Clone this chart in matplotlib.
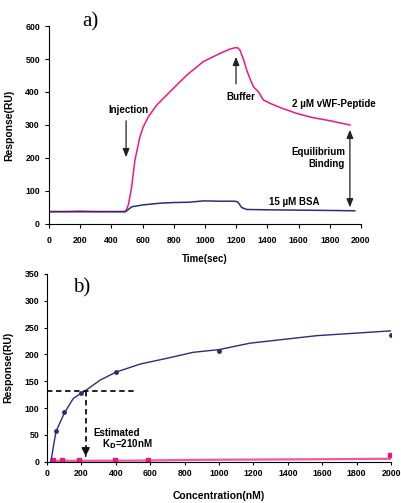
import numpy as np
from matplotlib import pyplot as plt

plt.rcParams['font.family'] = ['Liberation Sans', 'DejaVu Sans']
plt.rcParams['font.weight'] = 'bold'
plt.rcParams['axes.labelweight'] = 'bold'

PINK = '#ee1589'
NAVY = '#2c2d78'

# panel a: sensorgram traces
t_pep = [0, 100, 200, 300, 400, 480, 494, 510, 530, 551, 583, 605, 637, 690, 776, 883,
         989, 1096, 1160, 1192, 1210, 1224, 1246, 1267, 1288, 1310, 1342, 1374, 1420,
         1481, 1588, 1694, 1801, 1929]
r_pep = [38, 38, 39, 38, 38, 38, 40, 60, 113, 194, 265, 295, 325, 360, 401, 451,
         492, 517, 530, 534, 534, 527, 500, 467, 441, 416, 401, 376, 365,
         353, 335, 322, 313, 300]

t_bsa = [0, 100, 200, 300, 400, 490, 530, 605, 712, 800, 900, 989, 1100, 1192, 1210,
         1235, 1267, 1400, 1600, 1800, 1960]
r_bsa = [37, 37, 37, 37, 37, 37, 52, 58, 63, 65, 66, 70, 69, 69, 67,
         50, 44, 43, 42, 41, 40]

# panel b: binding isotherm
conc_fit = [23, 52, 101, 153, 196, 230, 308, 401, 541, 700, 851, 1000, 1180, 1374,
            1568, 1762, 2000]
resp_fit = [1, 56, 91, 118, 127, 134, 152, 167, 182, 193, 204, 209, 221, 228,
            235, 239, 244]
conc_pts = [50, 100, 200, 400, 1000, 2000]
resp_pts = [57, 92, 128, 168, 207, 237]

conc_bsa = [37, 85, 188, 395, 589, 1995]
resp_bsa = [4, 4, 4, 4, 4, 12]
conc_bsa_fit = [25, 500, 900, 1550, 2000]
resp_bsa_fit = [1.5, 2, 3.5, 4.5, 5.5]

fig = plt.figure(figsize=(4.01, 5.03), dpi=100)


def bold_ticks(ax):
    for lab in ax.get_xticklabels() + ax.get_yticklabels():
        lab.set_fontweight('bold')


ax1 = fig.add_axes([0.1222, 0.5547, 0.778, 0.3936])
ax1.plot(t_pep, r_pep, color=PINK, lw=1.1)
ax1.plot(t_bsa, r_bsa, color=NAVY, lw=1.1)
ax1.set_xlim(0, 2000)
ax1.set_ylim(0, 600)
ax1.set_xticks(range(0, 2001, 200))
ax1.set_yticks(range(0, 601, 100))
ax1.tick_params(labelsize=6.3, length=3, width=0.8)
ax1.tick_params(axis='x', pad=6)
bold_ticks(ax1)
ax1.set_xlabel('Time(sec)', fontsize=7, labelpad=6, fontweight='bold')
ax1.set_ylabel('Response(RU)', fontsize=7.5, labelpad=8, fontweight='bold')
for s in ['top', 'right']:
    ax1.spines[s].set_visible(False)

arr = dict(arrowstyle='-|>,head_length=0.5,head_width=0.2', color='#222222', lw=0.9)
ax1.annotate('', xy=(494, 194), xytext=(494, 321), arrowprops=arr)
ax1.text(509, 345, 'Injection', fontsize=7, ha='center', va='center', fontweight='bold')
ax1.annotate('', xy=(1199, 515), xytext=(1199, 416), arrowprops=arr)
ax1.text(1231, 386, 'Buffer', fontsize=7, ha='center', va='center', fontweight='bold')
ax1.text(1827, 364, '2 µM vWF-Peptide', fontsize=7, ha='center', va='center',
         fontweight='bold')
ax1.annotate('', xy=(1929, 42), xytext=(1929, 294),
             arrowprops=dict(arrowstyle='<|-|>,head_length=0.5,head_width=0.2',
                             color='#222222', lw=0.9))
ax1.text(1897, 200, 'Equilibrium\nBinding', fontsize=7, ha='right', va='center',
         multialignment='right', linespacing=1.15, fontweight='bold')
ax1.text(1571, 66, '15 µM BSA', fontsize=7, ha='center', va='center', fontweight='bold')
ax1.text(0.105, 1.02, 'a)', transform=ax1.transAxes, fontsize=15,
         family=['Liberation Serif', 'DejaVu Serif'], weight='normal',
         ha='left', va='center')

ax2 = fig.add_axes([0.1172, 0.0821, 0.858, 0.3732])
ax2.plot(conc_bsa_fit, resp_bsa_fit, color='#f2569f', lw=1.6)
ax2.plot(conc_bsa, resp_bsa, 's', color=PINK, ms=2.5)
ax2.plot(conc_fit, resp_fit, color=NAVY, lw=1.0)
ax2.plot(conc_pts, resp_pts, 'o', color=NAVY, ms=2.5)
ax2.set_xlim(0, 2000)
ax2.set_ylim(0, 350)
ax2.set_xticks(range(0, 2001, 200))
ax2.set_yticks(range(0, 351, 50))
ax2.tick_params(labelsize=6.3, length=2.5, width=0.8, pad=3)
bold_ticks(ax2)
ax2.set_xlabel('Concentration(nM)', fontsize=7.5, labelpad=9, fontweight='bold')
ax2.set_ylabel('Response(RU)', fontsize=7.5, labelpad=8, fontweight='bold')
for s in ['top', 'right']:
    ax2.spines[s].set_visible(False)

ax2.plot([0, 523], [132, 132], color='#111111', lw=1.3, ls=(0, (3, 2)))
ax2.plot([225, 225], [132, 14], color='#111111', lw=1.3, ls=(0, (3, 2)))
ax2.annotate('', xy=(225, 5), xytext=(225, 16),
             arrowprops=dict(arrowstyle='-|>,head_length=0.5,head_width=0.25',
                             color='#111111', lw=1.0))
ax2.text(269, 53, 'Estimated', fontsize=7, ha='left', va='center', fontweight='bold')
ax2.text(318, 33, 'K$_\\mathbf{D}$=210nM', fontsize=7, ha='left', va='center',
         fontweight='bold')
ax2.text(0.076, 0.925, 'b)', transform=ax2.transAxes, fontsize=15,
         family=['Liberation Serif', 'DejaVu Serif'], weight='normal',
         ha='left', va='center')

fig.savefig('out.png', dpi=100)
